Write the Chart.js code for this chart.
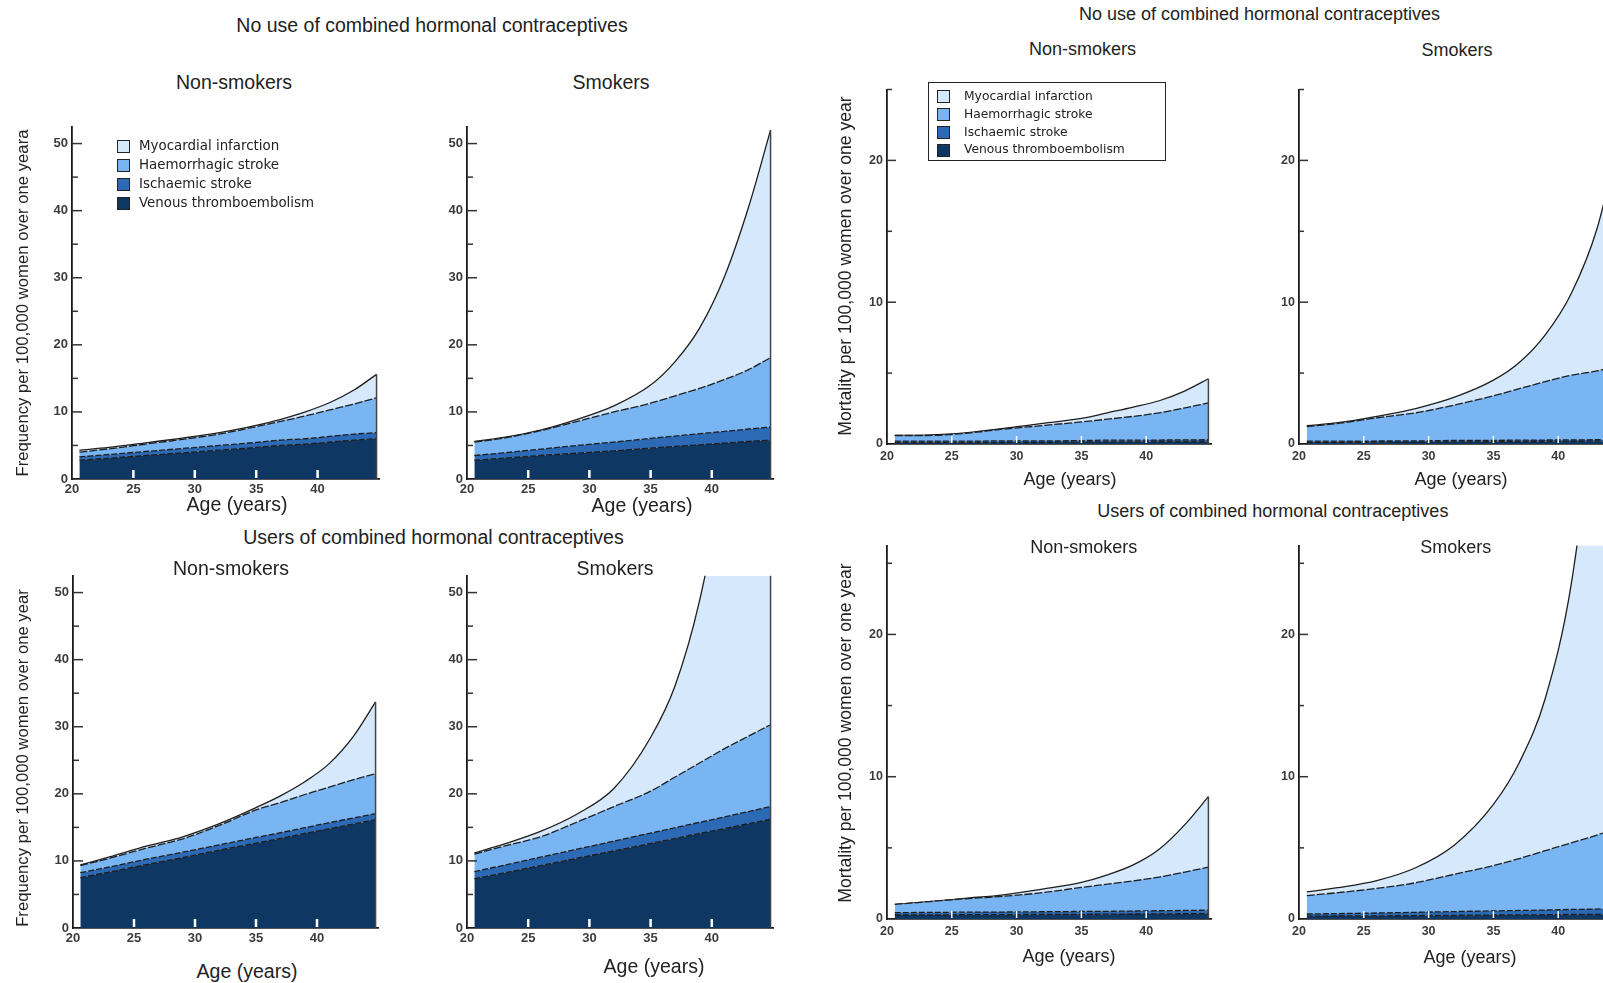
<!DOCTYPE html>
<html>
<head>
<meta charset="utf-8">
<script src="https://cdn.jsdelivr.net/npm/chart.js@4.4.1/dist/chart.umd.min.js"></script>
<style>
  html, body { margin: 0; padding: 0; background: #fff; width: 1603px; height: 983px; overflow: hidden; position: relative; }
  .panel { position: absolute; }
  .txt { position: absolute; white-space: nowrap; font-family: "Liberation Sans", Arial, sans-serif; color: #222; transform: translate(-50%, -50%); }
  .rot { transform: translate(-50%, -50%) rotate(-90deg); }
  .legend { position: absolute; font-family: "DejaVu Sans", Verdana, sans-serif; color: #222; }
  .legend .item { position: absolute; left: 0; white-space: nowrap; }
  .legend .sw { position: absolute; box-sizing: border-box; border: 1.5px solid #222; }
</style>
</head>
<body>
<script>
// ---------- data ----------
const ages = [20.6, 23, 26, 29, 32, 35, 37, 39, 41, 43, 44.8];
const causes = ['Myocardial infarction', 'Haemorrhagic stroke', 'Ischaemic stroke', 'Venous thromboembolism'];
const xTicks = [20, 25, 30, 35, 40];

// Frequency per 100,000 women over one year — no use of combined hormonal contraceptives
const fNoNonVTE  = [2.8, 3.1, 3.5, 3.9, 4.3, 4.7, 5.0, 5.2, 5.5, 5.8, 6.0];
const fNoNonIsch = [0.5, 0.55, 0.6, 0.65, 0.7, 0.75, 0.8, 0.8, 0.85, 0.9, 0.9];
const fNoNonHaem = [0.7, 0.85, 1.1, 1.35, 1.7, 2.35, 2.8, 3.4, 3.95, 4.5, 5.2];
const fNoNonMI   = [0.3, 0.2, 0.2, 0.2, 0.2, 0.2, 0.3, 0.6, 1.1, 2.1, 3.5];

const fNoSmkVTE  = [2.8, 3.1, 3.5, 3.85, 4.2, 4.6, 4.85, 5.1, 5.35, 5.6, 5.8];
const fNoSmkIsch = [0.7, 0.8, 0.95, 1.15, 1.3, 1.45, 1.55, 1.65, 1.75, 1.85, 1.95];
const fNoSmkHaem = [2.0, 2.2, 2.75, 3.6, 4.5, 5.25, 6.0, 6.75, 7.7, 8.85, 10.35];
const fNoSmkMI   = [0.1, 0.1, 0.1, 0.3, 0.9, 2.7, 5.1, 9.0, 15.2, 24.2, 33.9];

// Frequency — users of combined hormonal contraceptives
const fUseNonVTE  = [7.5, 8.35, 9.45, 10.5, 11.6, 12.65, 13.35, 14.1, 14.8, 15.5, 16.15];
const fUseNonIsch = [0.75, 0.75, 0.8, 0.8, 0.8, 0.85, 0.85, 0.85, 0.9, 0.9, 0.9];
const fUseNonHaem = [1.05, 1.3, 1.65, 2.0, 2.9, 4.1, 4.5, 4.95, 5.3, 5.7, 5.95];
const fUseNonMI   = [0.1, 0.2, 0.3, 0.3, 0.25, 0.35, 1.0, 1.9, 3.5, 6.5, 10.7];

const fUseSmkVTE  = [7.35, 8.2, 9.3, 10.4, 11.5, 12.6, 13.35, 14.1, 14.8, 15.55, 16.2];
const fUseSmkIsch = [1.05, 1.15, 1.25, 1.35, 1.45, 1.55, 1.6, 1.65, 1.75, 1.8, 1.9];
const fUseSmkHaem = [2.6, 2.85, 3.05, 4.05, 5.15, 6.25, 7.55, 8.85, 10.15, 11.25, 12.2];
const fUseSmkMI   = [0.2, 0.3, 0.8, 1.2, 2.7, 8.0, 13.6, 24.2, 41.3, 66.4, 94.7];

// Mortality per 100,000 women over one year — no use
const mNoNonVTE  = [0.1, 0.1, 0.1, 0.12, 0.12, 0.14, 0.15, 0.15, 0.16, 0.17, 0.18];
const mNoNonIsch = [0.1, 0.1, 0.1, 0.1, 0.1, 0.1, 0.12, 0.12, 0.12, 0.12, 0.12];
const mNoNonHaem = [0.4, 0.4, 0.55, 0.83, 1.08, 1.32, 1.48, 1.68, 1.92, 2.26, 2.6];
const mNoNonMI   = [0.0, 0.03, 0.03, 0.05, 0.15, 0.24, 0.45, 0.65, 0.85, 1.2, 1.7];

const mNoSmkVTE  = [0.12, 0.12, 0.13, 0.14, 0.15, 0.16, 0.17, 0.18, 0.19, 0.2, 0.2];
const mNoSmkIsch = [0.08, 0.08, 0.08, 0.08, 0.1, 0.1, 0.1, 0.1, 0.1, 0.1, 0.1];
const mNoSmkHaem = [1.02, 1.25, 1.64, 1.98, 2.5, 3.14, 3.63, 4.12, 4.56, 4.85, 5.3];
const mNoSmkMI   = [0.07, 0.05, 0.1, 0.3, 0.55, 1.1, 1.85, 3.3, 5.75, 10.05, 16.4];

// Mortality — users
const mUseNonVTE  = [0.28, 0.29, 0.3, 0.31, 0.32, 0.33, 0.34, 0.35, 0.36, 0.37, 0.38];
const mUseNonIsch = [0.17, 0.17, 0.18, 0.18, 0.19, 0.2, 0.2, 0.21, 0.22, 0.23, 0.24];
const mUseNonHaem = [0.58, 0.74, 0.94, 1.11, 1.34, 1.69, 1.91, 2.12, 2.37, 2.7, 3.03];
const mUseNonMI   = [0.0, 0.0, 0.03, 0.1, 0.25, 0.35, 0.65, 1.12, 1.95, 3.35, 4.95];

const mUseSmkVTE  = [0.2, 0.21, 0.22, 0.24, 0.26, 0.28, 0.29, 0.3, 0.32, 0.33, 0.35];
const mUseSmkIsch = [0.15, 0.17, 0.2, 0.23, 0.26, 0.29, 0.31, 0.33, 0.35, 0.37, 0.4];
const mUseSmkHaem = [1.3, 1.47, 1.73, 2.08, 2.63, 3.18, 3.65, 4.17, 4.68, 5.2, 5.75];
const mUseSmkMI   = [0.25, 0.35, 0.55, 1.05, 2.05, 4.3, 6.75, 10.7, 18.15, 32.1, 48.5];

// ---------- styling ----------
const colors = { mi: '#d6e8fb', haem: '#78b5f2', isch: '#2c6ab6', vte: '#0f3763' };
const lineColor = '#1e1e1e';

Chart.defaults.font.family = '"Liberation Sans", Arial, sans-serif';

const insideTicks = {
  id: 'insideTicks',
  afterDatasetsDraw(chart, args, opts) {
    const { ctx, chartArea: a, scales: { x, y } } = chart;
    ctx.save();
    const metas = chart.getSortedVisibleDatasetMetas();
    const topPts = metas[metas.length - 1].data;
    const last = topPts[topPts.length - 1];
    ctx.strokeStyle = '#444'; ctx.lineWidth = 1.5;
    ctx.beginPath(); ctx.moveTo(last.x, Math.max(last.y, a.top)); ctx.lineTo(last.x, a.bottom); ctx.stroke();
    ctx.strokeStyle = '#ffffff'; ctx.lineWidth = opts.xw;
    x.ticks.forEach(t => {
      if (t.value > x.min && t.value < x.max) {
        const px = x.getPixelForValue(t.value);
        ctx.beginPath(); ctx.moveTo(px, a.bottom - 1); ctx.lineTo(px, a.bottom - opts.xl); ctx.stroke();
      }
    });
    ctx.strokeStyle = '#333'; ctx.lineWidth = 1.5;
    y.ticks.forEach(t => {
      if (t.value === 0) return;
      const py = y.getPixelForValue(t.value);
      const len = t.value % 10 === 0 ? opts.major : opts.minor;
      ctx.beginPath(); ctx.moveTo(a.left, py); ctx.lineTo(a.left + len, py); ctx.stroke();
    });
    ctx.restore();
  }
};

function makeDatasets(vte, isch, haem, mi) {
  const pts = arr => ages.map((a, i) => ({ x: a, y: arr[i] }));
  const base = { pointRadius: 0, borderWidth: 1.3, borderColor: lineColor, cubicInterpolationMode: 'monotone' };
  return [
    Object.assign({ label: causes[3], data: pts(vte), backgroundColor: colors.vte, fill: 'origin', borderDash: [6, 2] }, base),
    Object.assign({ label: causes[2], data: pts(isch), backgroundColor: colors.isch, fill: '-1', borderDash: [6, 2] }, base),
    Object.assign({ label: causes[1], data: pts(haem), backgroundColor: colors.haem, fill: '-1', borderDash: [8, 2] }, base),
    Object.assign({ label: causes[0], data: pts(mi), backgroundColor: colors.mi, fill: '-1' }, base)
  ];
}

function makePanel(p) {
  const yW = 42, xH = p.xH, padTop = 3, padRight = 6;
  const left = Math.round(p.axisX - yW);
  const top = Math.round(p.top - padTop);
  const w = Math.round(p.right - p.axisX) + yW + padRight;
  const h = Math.round(p.bottom - p.top) + padTop + xH;
  const div = document.createElement('div');
  div.className = 'panel';
  div.style.left = left + 'px'; div.style.top = top + 'px';
  div.style.width = w + 'px'; div.style.height = h + 'px';
  const cv = document.createElement('canvas');
  cv.width = w; cv.height = h;
  cv.style.width = w + 'px'; cv.style.height = h + 'px';
  div.appendChild(cv);
  document.body.appendChild(div);
  new Chart(cv, {
    type: 'line',
    data: { datasets: makeDatasets(p.vte, p.isch, p.haem, p.mi) },
    options: {
      responsive: false, animation: false, devicePixelRatio: 1,
      layout: { padding: { top: padTop, right: padRight, left: 0, bottom: 0 } },
      plugins: { legend: { display: false }, tooltip: { enabled: false },
        insideTicks: { major: p.major, minor: p.minor, xw: p.xw, xl: p.xl } },
      scales: {
        x: {
          type: 'linear', min: 20, max: 45,
          afterFit: s => { s.height = xH; },
          grid: { display: false, drawTicks: false },
          border: { display: true, color: '#1a1a1a', width: 1.8 },
          ticks: { stepSize: 5, autoSkip: false, maxRotation: 0, padding: p.xPad,
            color: '#3c3c3c', font: { size: p.fs, weight: 'bold' },
            callback: v => (xTicks.includes(v) ? String(v) : '') }
        },
        y: {
          type: 'linear', min: 0, max: p.yMax, stacked: true,
          afterFit: s => { s.width = yW; },
          grid: { display: false, drawTicks: false },
          border: { display: true, color: '#1a1a1a', width: 1.8 },
          ticks: { stepSize: 5, includeBounds: false, autoSkip: false, padding: 4,
            color: '#3c3c3c', font: { size: p.fs, weight: 'bold' },
            callback: v => (v % 10 === 0 ? String(v) : '') }
        }
      }
    },
    plugins: [insideTicks]
  });
}

const freqStyle = { xH: 28, yMax: 52.5, major: 10, minor: 6, xw: 2.5, xl: 9, xPad: 3, fs: 13 };
const mortStyle = { xH: 30, major: 9, minor: 5, xw: 1.5, xl: 8, xPad: 5, fs: 12.5 };

const panels = [
  Object.assign({ axisX: 72, top: 117.8, bottom: 479, right: 378.8, vte: fNoNonVTE, isch: fNoNonIsch, haem: fNoNonHaem, mi: fNoNonMI }, freqStyle),
  Object.assign({ axisX: 467, top: 117.8, bottom: 479, right: 773, vte: fNoSmkVTE, isch: fNoSmkIsch, haem: fNoSmkHaem, mi: fNoSmkMI }, freqStyle),
  Object.assign({ axisX: 73, top: 566.8, bottom: 928, right: 378, vte: fUseNonVTE, isch: fUseNonIsch, haem: fUseNonHaem, mi: fUseNonMI }, freqStyle),
  Object.assign({ axisX: 467, top: 566.8, bottom: 928, right: 773, vte: fUseSmkVTE, isch: fUseSmkIsch, haem: fUseSmkHaem, mi: fUseSmkMI }, freqStyle),
  Object.assign({ axisX: 887, top: 81.3, bottom: 444.3, right: 1210.5, yMax: 25, vte: mNoNonVTE, isch: mNoNonIsch, haem: mNoNonHaem, mi: mNoNonMI }, mortStyle),
  Object.assign({ axisX: 1299, top: 81.3, bottom: 444.3, right: 1622.5, yMax: 25, vte: mNoSmkVTE, isch: mNoSmkIsch, haem: mNoSmkHaem, mi: mNoSmkMI }, mortStyle),
  Object.assign({ axisX: 887, top: 537, bottom: 919, right: 1210.5, yMax: 26.25, vte: mUseNonVTE, isch: mUseNonIsch, haem: mUseNonHaem, mi: mUseNonMI }, mortStyle),
  Object.assign({ axisX: 1299, top: 537, bottom: 919, right: 1622.5, yMax: 26.25, vte: mUseSmkVTE, isch: mUseSmkIsch, haem: mUseSmkHaem, mi: mUseSmkMI }, mortStyle)
];
panels.forEach(makePanel);

// ---------- text ----------
const texts = [
  ['No use of combined hormonal contraceptives', 432, 24.5, 19.5, false],
  ['Non-smokers', 234, 82, 19.5, false],
  ['Smokers', 611, 82, 19.5, false],
  ['Users of combined hormonal contraceptives', 433.5, 537, 19.5, false],
  ['Non-smokers', 231, 568, 19.5, false],
  ['Smokers', 615, 568, 19.5, false],
  ['Age (years)', 237, 504, 19.5, false],
  ['Age (years)', 642, 505, 19.5, false],
  ['Age (years)', 247, 971, 19.5, false],
  ['Age (years)', 654, 966, 19.5, false],
  ['Frequency per 100,000 women over one yeara', 22.5, 303, 16.7, true],
  ['Frequency per 100,000 women over one year', 22.5, 757.5, 16.7, true],
  ['No use of combined hormonal contraceptives', 1259.5, 14.3, 18, false],
  ['Non-smokers', 1082.6, 49, 18, false],
  ['Smokers', 1457, 50, 18, false],
  ['Users of combined hormonal contraceptives', 1272.8, 511, 18, false],
  ['Non-smokers', 1083.7, 547, 18, false],
  ['Smokers', 1455.8, 547, 18, false],
  ['Age (years)', 1070, 479, 18, false],
  ['Age (years)', 1461, 479, 18, false],
  ['Age (years)', 1069, 956, 18, false],
  ['Age (years)', 1470, 957, 18, false],
  ['Mortality per 100,000 women over one year', 844.5, 266, 17.6, true],
  ['Mortality per 100,000 women over one year', 844.5, 733, 17.6, true]
];
texts.forEach(([s, x, y, fs, rot]) => {
  const d = document.createElement('div');
  d.className = 'txt' + (rot ? ' rot' : '');
  d.textContent = s;
  d.style.left = x + 'px'; d.style.top = y + 'px'; d.style.fontSize = fs + 'px';
  document.body.appendChild(d);
});

// ---------- legends ----------
function makeLegend(opt) {
  const lg = document.createElement('div');
  lg.className = 'legend';
  lg.style.left = opt.left + 'px'; lg.style.top = opt.top + 'px';
  lg.style.width = opt.w + 'px'; lg.style.height = opt.h + 'px';
  if (opt.box) { lg.style.border = '1.5px solid #222'; lg.style.boxSizing = 'border-box'; }
  const cols = [colors.mi, colors.haem, colors.isch, colors.vte];
  causes.forEach((c, i) => {
    const cy = opt.y0 + i * opt.dy;
    const sw = document.createElement('div');
    sw.className = 'sw';
    sw.style.left = opt.swX + 'px'; sw.style.top = (cy - opt.sw / 2) + 'px';
    sw.style.width = opt.sw + 'px'; sw.style.height = opt.sw + 'px';
    sw.style.background = cols[i];
    lg.appendChild(sw);
    const t = document.createElement('div');
    t.className = 'item';
    t.textContent = c;
    t.style.left = opt.txX + 'px'; t.style.top = (cy - opt.fs * 0.62) + 'px';
    t.style.fontSize = opt.fs + 'px';
    lg.appendChild(t);
  });
  document.body.appendChild(lg);
}
makeLegend({ left: 110, top: 134, w: 230, h: 80, box: false, y0: 12, dy: 19.1, swX: 7, sw: 13, txX: 29, fs: 13.4 });
makeLegend({ left: 928, top: 82, w: 238, h: 79, box: true, y0: 13.7, dy: 17.8, swX: 8, sw: 13, txX: 35, fs: 12.3 });
</script>
</body>
</html>
